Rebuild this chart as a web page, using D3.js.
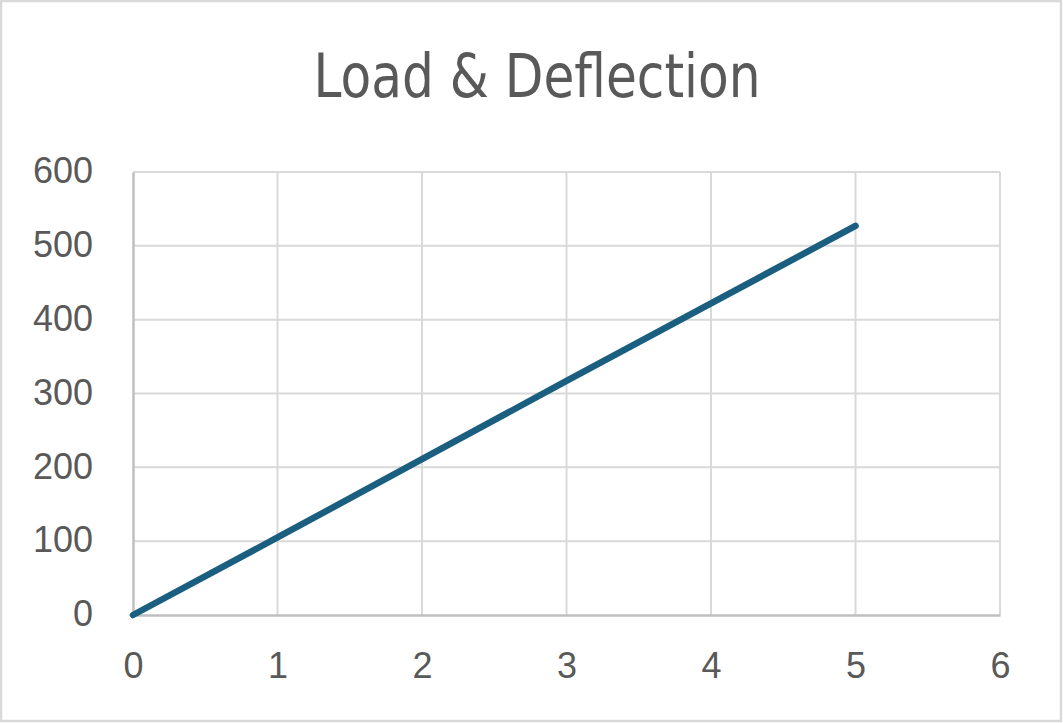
<!DOCTYPE html>
<html>
<head>
<meta charset="UTF-8" />
<title>Load & Deflection</title>
<style>
  body { margin: 0; background: #fff; }
  .tick text { font-family: "Liberation Sans", Arial, sans-serif; font-size: 36px; fill: #595959; }
  .title { font-family: "Liberation Sans Narrow", "DejaVu Sans Condensed", sans-serif; fill: #595959; }
</style>
<script src="https://d3js.org/d3.v7.min.js"></script>
</head>
<body>
<script>
var deflection = [0, 1, 2, 3, 4, 5];
var load = [0, 105, 211, 317, 422, 527];
var xTicks = [0, 1, 2, 3, 4, 5, 6];
var yTicks = [0, 100, 200, 300, 400, 500, 600];

var width = 1063, height = 723;
var margin = {left: 133, right: 63, top: 172, bottom: 108};

var svg = d3.select("body").append("svg")
    .attr("width", width)
    .attr("height", height);

// chart frame
svg.append("rect")
    .attr("x", 1).attr("y", 1)
    .attr("width", width - 3).attr("height", height - 3)
    .attr("fill", "#fff")
    .attr("stroke", "#d9d9d9")
    .attr("stroke-width", 2.5);

svg.append("text")
    .attr("class", "title")
    .attr("x", 537)
    .attr("y", 97)
    .attr("text-anchor", "middle")
    .attr("textLength", 447)
    .attr("lengthAdjust", "spacingAndGlyphs")
    .style("font-size", "60px")
    .text("Load & Deflection");

var x = d3.scaleLinear().domain([0, 6]).range([margin.left, width - margin.right]);
var y = d3.scaleLinear().domain([0, 600]).range([height - margin.bottom, margin.top]);

// gridlines
svg.append("g").selectAll("line")
    .data(xTicks.slice(1))
    .enter().append("line")
    .attr("x1", x).attr("x2", x)
    .attr("y1", y(0)).attr("y2", y(600))
    .attr("stroke", "#d9d9d9").attr("stroke-width", 2);

svg.append("g").selectAll("line")
    .data(yTicks.slice(1))
    .enter().append("line")
    .attr("x1", x(0)).attr("x2", x(6))
    .attr("y1", y).attr("y2", y)
    .attr("stroke", "#d9d9d9").attr("stroke-width", 2);

// axes
var xAxis = svg.append("g")
    .attr("transform", "translate(0," + y(0) + ")")
    .call(d3.axisBottom(x).tickValues(xTicks).tickSize(0).tickPadding(37).tickFormat(d3.format("d")));
xAxis.select(".domain").attr("stroke", "#bfbfbf").attr("stroke-width", 2.5);

var yAxis = svg.append("g")
    .attr("transform", "translate(" + x(0) + ",0)")
    .call(d3.axisLeft(y).tickValues(yTicks).tickSize(0).tickPadding(40).tickFormat(d3.format("d")));
yAxis.select(".domain").attr("stroke", "#bfbfbf").attr("stroke-width", 2.5);
yAxis.selectAll(".tick text").attr("dy", "0.3em");

// series
var line = d3.line()
    .x(function(d, i) { return x(deflection[i]); })
    .y(function(d) { return y(d); });

svg.append("path")
    .datum(load)
    .attr("d", line)
    .attr("fill", "none")
    .attr("stroke", "#1a5e80")
    .attr("stroke-width", 6.5)
    .attr("stroke-linecap", "round")
    .attr("stroke-linejoin", "round");
</script>
</body>
</html>
